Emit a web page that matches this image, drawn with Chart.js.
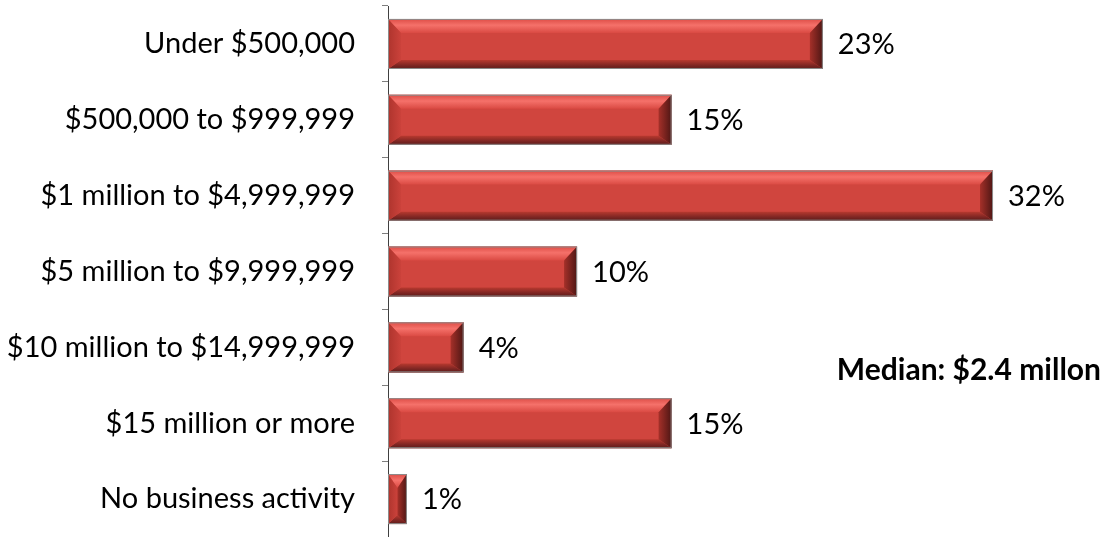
<!DOCTYPE html>
<html>
<head>
<meta charset="utf-8">
<script src="https://cdn.jsdelivr.net/npm/chart.js@4"></script>
<style>
  body { margin: 0; background: #fff; }
  #revenueChart { display: block; }
</style>
</head>
<body>
<canvas id="revenueChart" width="1103" height="537"></canvas>
<script>
// Revenue brackets and share of respondents (%)
const categories = [
  'Under $500,000',
  '$500,000 to $999,999',
  '$1 million to $4,999,999',
  '$5 million to $9,999,999',
  '$10 million to $14,999,999',
  '$15 million or more',
  'No business activity'
];
const shares = [23, 15, 32, 10, 4, 15, 1];
const medianNote = 'Median: $2.4 millon';

const fontFamily = 'Lato, "Open Sans", sans-serif';

// Draws the beveled look on top of each bar, plus the value labels
const bevelBars = {
  id: 'bevelBars',
  afterDatasetsDraw(chart) {
    const ctx = chart.ctx;
    const meta = chart.getDatasetMeta(0);
    ctx.save();
    meta.data.forEach((bar, i) => {
      const p = bar.getProps(['x', 'y', 'base', 'height'], true);
      const l = p.base, r = p.x, t = p.y - p.height / 2, b = p.y + p.height / 2;
      const w = r - l;
      const bv = Math.min(13, w / 2);
      const bt = 14, bb = 9;

      // top face
      let g = ctx.createLinearGradient(0, t, 0, t + bt);
      g.addColorStop(0, '#DD4D46');
      g.addColorStop(0.45, '#F5716A');
      g.addColorStop(1, '#DA4A43');
      ctx.fillStyle = g;
      ctx.beginPath();
      ctx.moveTo(l, t); ctx.lineTo(r, t); ctx.lineTo(r - bv, t + bt); ctx.lineTo(l + bv, t + bt);
      ctx.closePath(); ctx.fill();

      // bottom face
      g = ctx.createLinearGradient(0, b - bb, 0, b);
      g.addColorStop(0, '#B8392F');
      g.addColorStop(0.6, '#7E2623');
      g.addColorStop(1, '#5C1B19');
      ctx.fillStyle = g;
      ctx.beginPath();
      ctx.moveTo(l, b); ctx.lineTo(r, b); ctx.lineTo(r - bv, b - bb); ctx.lineTo(l + bv, b - bb);
      ctx.closePath(); ctx.fill();

      // left face
      g = ctx.createLinearGradient(l, 0, l + bv, 0);
      g.addColorStop(0, '#AE342D');
      g.addColorStop(1, '#CB423B');
      ctx.fillStyle = g;
      ctx.beginPath();
      ctx.moveTo(l, t); ctx.lineTo(l + bv, t + bt); ctx.lineTo(l + bv, b - bb); ctx.lineTo(l, b);
      ctx.closePath(); ctx.fill();

      // right face
      g = ctx.createLinearGradient(r - bv, 0, r, 0);
      g.addColorStop(0, '#A53029');
      g.addColorStop(1, '#4E1614');
      ctx.fillStyle = g;
      ctx.beginPath();
      ctx.moveTo(r, t); ctx.lineTo(r - bv, t + bt); ctx.lineTo(r - bv, b - bb); ctx.lineTo(r, b);
      ctx.closePath(); ctx.fill();

      // outline
      ctx.strokeStyle = '#8C8C8C';
      ctx.lineWidth = 1;
      ctx.strokeRect(l + 0.5, t + 0.5, w - 1, b - t - 1);

      // value label
      ctx.fillStyle = '#000';
      ctx.font = '29px ' + fontFamily;
      ctx.textAlign = 'left';
      ctx.textBaseline = 'middle';
      ctx.fillText(shares[i] + '%', r + 15, p.y + 1);
    });

    // median note
    ctx.font = 'bold 30px ' + fontFamily;
    ctx.textAlign = 'right';
    ctx.fillText(medianNote, chart.width - 2, 370);
    ctx.restore();
  }
};

new Chart(document.getElementById('revenueChart'), {
  type: 'bar',
  data: {
    labels: categories,
    datasets: [{
      data: shares,
      backgroundColor: '#D0453E',
      borderWidth: 0,
      barPercentage: 0.66,
      categoryPercentage: 1
    }]
  },
  options: {
    indexAxis: 'y',
    responsive: false,
    animation: false,
    devicePixelRatio: 1,
    layout: { padding: { top: 6, right: 6, bottom: 0, left: 0 } },
    plugins: {
      legend: { display: false },
      tooltip: { enabled: false }
    },
    scales: {
      x: {
        display: false,
        min: 0,
        max: 37.5
      },
      y: {
        afterFit: scale => {
          scale.width = 388;
          scale.paddingTop = 0;
          scale.paddingBottom = 0;
        },
        border: { color: '#404040', width: 1 },
        grid: {
          drawOnChartArea: false,
          drawTicks: true,
          tickLength: 6,
          color: '#7F7F7F',
          offset: true
        },
        ticks: {
          color: '#000',
          padding: 27,
          font: { family: fontFamily, size: 29 }
        }
      }
    }
  },
  plugins: [bevelBars]
});
</script>
</body>
</html>
